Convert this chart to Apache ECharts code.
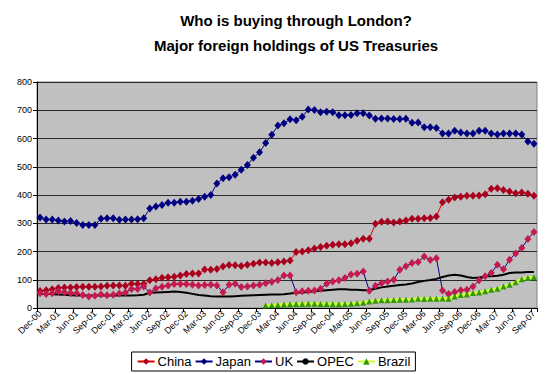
<!DOCTYPE html>
<html><head><meta charset="utf-8">
<script src="https://cdn.jsdelivr.net/npm/echarts@6/dist/echarts.min.js"></script>
<style>html,body{margin:0;padding:0;background:#fff}#c{width:547px;height:374px}</style>
</head><body><div id="c"></div>
<script>
const categories = [
 'Dec-00',
 'Jan-01','Feb-01','Mar-01','Apr-01','May-01','Jun-01','Jul-01','Aug-01','Sep-01','Oct-01','Nov-01','Dec-01',
 'Jan-02','Feb-02','Mar-02','Apr-02','May-02','Jun-02','Jul-02','Aug-02','Sep-02','Oct-02','Nov-02','Dec-02',
 'Jan-03','Feb-03','Mar-03','Apr-03','May-03','Jun-03','Jul-03','Aug-03','Sep-03','Oct-03','Nov-03','Dec-03',
 'Jan-04','Feb-04','Mar-04','Apr-04','May-04','Jun-04','Jul-04','Aug-04','Sep-04','Oct-04','Nov-04','Dec-04',
 'Jan-05','Feb-05','Mar-05','Apr-05','May-05','Jun-05','Jul-05','Aug-05','Sep-05','Oct-05','Nov-05','Dec-05',
 'Jan-06','Feb-06','Mar-06','Apr-06','May-06','Jun-06','Jul-06','Aug-06','Sep-06','Oct-06','Nov-06','Dec-06',
 'Jan-07','Feb-07','Mar-07','Apr-07','May-07','Jun-07','Jul-07','Aug-07','Sep-07'
];
const china = [60,63,66,71,73,73,74,75,75,75,76,79,80,80,79,86,85,85,98,102,107,109,111,115,120,122,122,136,135,138,
 147,152,151,149,153,157,161,161,159,162,165,168,198,200,204,211,216,220,224,226,226,229,238,245,245,298,305,306,303,306,
 310,316,316,318,319,324,374,383,391,394,397,397,398,403,422,424,418,412,406,409,404,397];
const japan = [320,313,313,310,306,308,301,294,294,294,316,318,318,312,313,313,314,318,352,359,365,373,373,376,376,380,386,394,400,441,
 459,463,472,489,506,532,551,584,613,646,654,668,665,677,703,701,693,695,693,682,682,683,689,689,681,670,671,671,669,669,
 670,656,657,640,640,637,618,618,627,621,618,618,627,627,618,614,618,618,618,614,589,581];
const uk = [52,50,52,59,56,53,52,46,41,43,48,45,47,51,55,67,67,76,55,69,75,80,85,85,85,82,80,81,82,80,
 56,82,86,74,76,80,82,88,93,99,115,115,56,59,61,62,68,86,94,98,106,119,121,129,61,79,88,94,100,135,
 148,159,163,182,170,176,62,50,57,63,65,76,98,112,124,153,137,171,193,212,244,269];
const opec = [50,50,49,48,47,45,44,44,44,44,44,44,44,44,44,44,45,47,54,55,56,57,58,57,54,50,46,44,42,41,
 41,41,42,43,44,45,46,47,48,48,49,51,54,55,57,59,61,63,65,66,66,65,65,63,63,68,73,76,79,81,
 83,87,92,96,99,103,110,115,118,115,110,106,108,112,112,114,118,124,126,126,127,127];
const brazil = [null,null,null,null,null,null,null,null,null,null,null,null,null,null,null,null,null,null,null,null,
 null,null,null,null,null,null,null,null,null,null,null,null,null,null,null,null,null,
 9,10,11,12,13,14,14,15,15,14,14,13,13,14,15,17,19,23,26,27,27,28,29,29,30,33,32,33,33,34,33,
 41,46,48,53,55,59,65,68,76,82,91,102,106,109];
const yTicks = [0,100,200,300,400,500,600,700,800];

const FONT = 'Liberation Sans, Arial, sans-serif';
const chart = echarts.init(document.getElementById('c'), null, {renderer: 'svg'});
chart.setOption({
  animation: false,
  backgroundColor: '#ffffff',
  title: {
    text: 'Who is buying through London?\nMajor foreign holdings of US Treasuries',
    left: 291, top: 3, textAlign: 'center',
    textStyle: {fontFamily: FONT, fontSize: 15, fontWeight: 'bold', color: '#000', lineHeight: 25}
  },
  grid: {left: 37, right: 10, top: 82, bottom: 66, show: true, backgroundColor: '#C0C0C0', borderColor: '#808080', borderWidth: 1},
  legend: {
    bottom: 3, left: 'center', selectedMode: false,
    borderColor: '#000', borderWidth: 1, padding: [3, 5],
    itemWidth: 17, itemHeight: 8, itemGap: 3,
    textStyle: {fontFamily: FONT, fontSize: 13, color: '#000', padding: [0, 0, 0, -2]},
    data: ['China', 'Japan', 'UK', 'OPEC', 'Brazil']
  },
  xAxis: {
    type: 'category', data: categories, boundaryGap: true,
    axisLine: {lineStyle: {color: '#000', width: 1}},
    axisTick: {show: true, interval: 2, length: 4, lineStyle: {color: '#000'}},
    axisLabel: {interval: 2, rotate: 45, fontFamily: FONT, fontSize: 9, color: '#000', margin: 4},
    splitLine: {show: false}
  },
  yAxis: {
    type: 'value', min: yTicks[0], max: yTicks[yTicks.length - 1], interval: 100,
    axisLine: {show: true, lineStyle: {color: '#000', width: 1}},
    axisTick: {show: true, length: 4, lineStyle: {color: '#000'}},
    axisLabel: {fontFamily: FONT, fontSize: 9, color: '#000', margin: 5},
    splitLine: {show: true, lineStyle: {color: '#2a2a2a', width: 1}}
  },
  series: [
    {name: 'China', type: 'line', data: china, symbol: 'diamond', symbolSize: [7, 8], showSymbol: true, showAllSymbol: true,
     lineStyle: {color: '#E00000', width: 1}, itemStyle: {color: '#A8001E'}},
    {name: 'Japan', type: 'line', data: japan, symbol: 'diamond', symbolSize: [7, 8], showSymbol: true, showAllSymbol: true,
     lineStyle: {color: '#000080', width: 1}, itemStyle: {color: '#000080'}},
    {name: 'UK', type: 'line', data: uk, symbol: 'diamond', symbolSize: [7, 8], showSymbol: true, showAllSymbol: true,
     lineStyle: {color: '#000080', width: 1}, itemStyle: {color: '#C41A4E'}},
    {name: 'OPEC', type: 'line', data: opec, symbol: 'none', showSymbol: false,
     lineStyle: {color: '#000000', width: 2}, itemStyle: {color: '#000000'}},
    {name: 'Brazil', type: 'line', data: brazil, symbol: 'triangle', symbolSize: 6, showSymbol: true, showAllSymbol: true,
     lineStyle: {color: '#CCFF33', width: 3}, itemStyle: {color: '#339900'}}
  ]
});
</script></body></html>
